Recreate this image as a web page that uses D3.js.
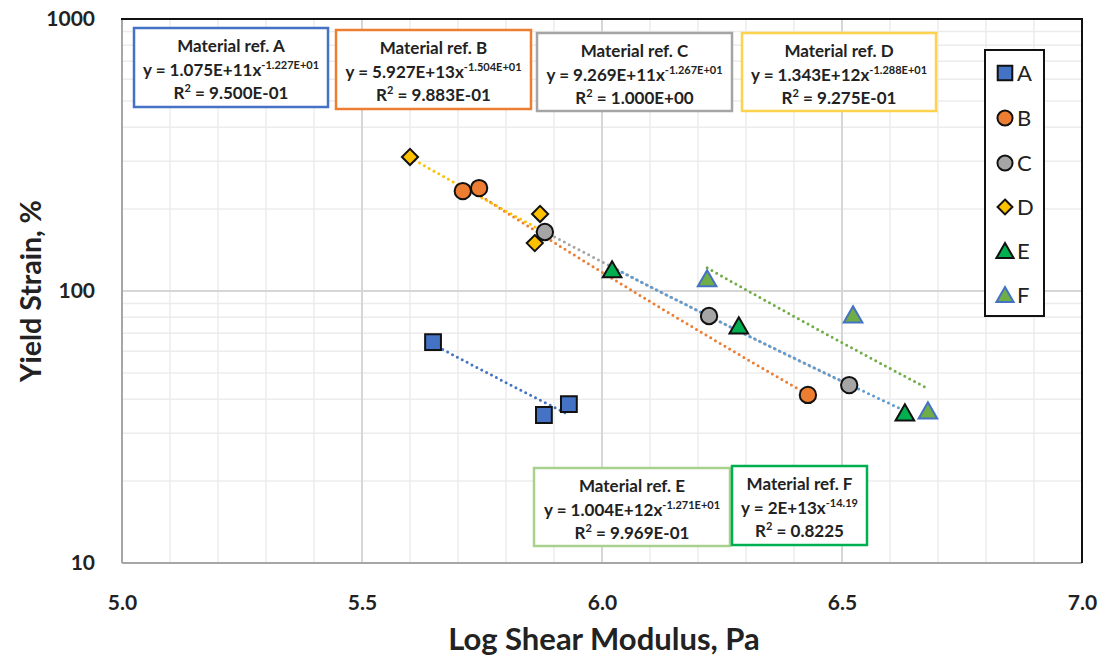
<!DOCTYPE html>
<html>
<head>
<meta charset="utf-8">
<script src="https://cdn.jsdelivr.net/npm/d3@7"></script>
<style>
  html, body { margin: 0; padding: 0; background: #fff; }
  svg { display: block; font-family: Lato, "Open Sans", sans-serif; }
</style>
</head>
<body>
<svg id="chart" width="1100" height="658"></svg>
<script>
// Series data: log shear modulus (Pa) vs yield strain (%)
const seriesNames = ["A", "B", "C", "D", "E", "F"];
const xA = [5.648, 5.879, 5.931];
const yA = [64.9, 35.0, 38.4];
const xB = [5.710, 5.744, 6.429];
const yB = [233, 239, 41.5];
const xC = [5.881, 6.223, 6.515];
const yC = [164.8, 80.9, 45.1];
const xD = [5.600, 5.871, 5.860];
const yD = [311, 192, 150];
const xE = [6.021, 6.285, 6.631];
const yE = [119.5, 74.3, 35.6];
const xF = [6.219, 6.523, 6.679];
const yF = [110.7, 81.6, 36.2];

const xTicks = [5.0, 5.5, 6.0, 6.5, 7.0];
const yTicks = [10, 100, 1000];

// Fit equations shown in the annotation boxes
const eqTitles = ["Material ref. A", "Material ref. B", "Material ref. C", "Material ref. D", "Material ref. E", "Material ref. F"];
const eqCoef = ["1.075E+11", "5.927E+13", "9.269E+11", "1.343E+12", "1.004E+12", "2E+13"];
const eqExp = ["-1.227E+01", "-1.504E+01", "-1.267E+01", "-1.288E+01", "-1.271E+01", "-14.19"];
const eqR2 = ["9.500E-01", "9.883E-01", "1.000E+00", "9.275E-01", "9.969E-01", "0.8225"];

const xs = [xA, xB, xC, xD, xE, xF];
const ys = [yA, yB, yC, yD, yE, yF];

const fills = ["#4472c4", "#ed7d31", "#a5a5a5", "#ffc000", "#00b050", "#70ad47"];
const strokes = ["#111", "#111", "#111", "#111", "#111", "#4472c4"];
const trendColors = ["#4472c4", "#ed7d31", "#a5a5a5", "#ffc000", "#5b9bd5", "#70ad47"];

// Marker shapes; the diamond is a square turned 45 degrees
const diamond = {
  draw(ctx, size) {
    const r = Math.sqrt(size / 2);
    ctx.moveTo(0, -r); ctx.lineTo(r, 0); ctx.lineTo(0, r); ctx.lineTo(-r, 0); ctx.closePath();
  }
};
const shapes = [d3.symbolSquare, d3.symbolCircle, d3.symbolCircle, diamond, d3.symbolTriangle, d3.symbolTriangle];
const sizes = [250, 210, 210, 130, 150, 150];

const svg = d3.select("#chart");
const L = 122, T = 19, R = 1082, B = 563;

const x = d3.scaleLinear().domain([5, 7]).range([L, R]);
const y = d3.scaleLog().domain([10, 1000]).range([B, T]);

// Grid: minor lines
const g = svg.append("g");
const xMinor = d3.range(5.1, 7.0, 0.1).filter(v => Math.abs(v * 2 - Math.round(v * 2)) > 1e-6);
g.selectAll(".xm").data(xMinor).join("line")
  .attr("x1", d => x(d)).attr("x2", d => x(d)).attr("y1", T).attr("y2", B)
  .attr("stroke", "#ececec").attr("stroke-width", 1.5);
const yMinor = [];
[10, 100].forEach(dec => { for (let k = 2; k <= 9; k++) yMinor.push(dec * k); });
g.selectAll(".ym").data(yMinor).join("line")
  .attr("x1", L).attr("x2", R).attr("y1", d => y(d)).attr("y2", d => y(d))
  .attr("stroke", "#ececec").attr("stroke-width", 1.5);
// Grid: major lines
g.selectAll(".xM").data([5.5, 6.0, 6.5]).join("line")
  .attr("x1", d => x(d)).attr("x2", d => x(d)).attr("y1", T).attr("y2", B)
  .attr("stroke", "#d6d6d6").attr("stroke-width", 2);
g.selectAll(".yM").data([100]).join("line")
  .attr("x1", L).attr("x2", R).attr("y1", d => y(d)).attr("y2", d => y(d))
  .attr("stroke", "#d6d6d6").attr("stroke-width", 2);

// Frame
svg.append("line").attr("x1", L).attr("x2", L).attr("y1", T).attr("y2", B).attr("stroke", "#a6a6a6").attr("stroke-width", 2);
svg.append("line").attr("x1", L).attr("x2", R).attr("y1", B).attr("y2", B).attr("stroke", "#a6a6a6").attr("stroke-width", 2);
svg.append("line").attr("x1", L - 1).attr("x2", R + 1).attr("y1", T).attr("y2", T).attr("stroke", "#111").attr("stroke-width", 2);
svg.append("line").attr("x1", R).attr("x2", R).attr("y1", T).attr("y2", B).attr("stroke", "#111").attr("stroke-width", 2);

// Axis tick labels
const xAxis = d3.axisBottom(x).tickValues(xTicks).tickFormat(d3.format(".1f")).tickSize(0).tickPadding(32);
const gx = svg.append("g").attr("transform", `translate(0,${B})`).call(xAxis);
gx.select(".domain").remove();
gx.selectAll("text").attr("font-size", 21).attr("font-weight", "bold").attr("fill", "#222")
  .attr("font-family", "Lato, sans-serif");

const yAxis = d3.axisLeft(y).tickValues(yTicks).tickFormat(d3.format("d")).tickSize(0).tickPadding(27);
const gy = svg.append("g").attr("transform", `translate(${L},0)`).call(yAxis);
gy.select(".domain").remove();
gy.selectAll("text").attr("font-size", 21).attr("font-weight", "bold").attr("fill", "#222")
  .attr("font-family", "Lato, sans-serif");

// Axis titles
svg.append("text").attr("x", 604).attr("y", 650).attr("text-anchor", "middle")
  .attr("font-size", 31).attr("font-weight", "bold").attr("fill", "#222")
  .text("Log Shear Modulus, Pa");
svg.append("text").attr("transform", "translate(41,291) rotate(-90)").attr("text-anchor", "middle")
  .attr("font-size", 28.5).attr("font-weight", "bold").attr("fill", "#222")
  .text("Yield Strain, %");

// Power-law trendlines: least-squares fit of ln(y) on ln(x), drawn over each series' x range
function powerFit(xv, yv) {
  const lx = xv.map(Math.log), ly = yv.map(Math.log);
  const mx = d3.mean(lx), my = d3.mean(ly);
  let sxy = 0, sxx = 0;
  lx.forEach((v, i) => { sxy += (v - mx) * (ly[i] - my); sxx += (v - mx) * (v - mx); });
  const b = sxy / sxx;
  const a = Math.exp(my - b * mx);
  return v => a * Math.pow(v, b);
}
const line = d3.line().x(d => x(d[0])).y(d => y(d[1]));
const trendOrder = [0, 1, 3, 2, 5, 4];
trendOrder.forEach(i => {
  const f = powerFit(xs[i], ys[i]);
  const [x0, x1] = d3.extent(xs[i]);
  const pts = d3.range(0, 41).map(k => { const v = x0 + (x1 - x0) * k / 40; return [v, f(v)]; });
  svg.append("path").attr("d", line(pts)).attr("fill", "none")
    .attr("stroke", trendColors[i]).attr("stroke-width", 3)
    .attr("stroke-linecap", "round").attr("stroke-dasharray", "0 5.5");
});

// Markers
seriesNames.forEach((name, i) => {
  const sym = d3.symbol().type(shapes[i]).size(sizes[i]);
  svg.append("g").selectAll("path").data(xs[i].map((v, j) => [v, ys[i][j]])).join("path")
    .attr("transform", d => `translate(${x(d[0])},${y(d[1]) + (shapes[i] === d3.symbolTriangle ? 2 : 0)})`)
    .attr("d", sym)
    .attr("fill", fills[i]).attr("stroke", strokes[i]).attr("stroke-width", 2);
});

// Equation boxes
const boxes = [
  { x0: 134, y0: 28, x1: 328, y1: 107, c: "#4472c4" },
  { x0: 336, y0: 30, x1: 531, y1: 109, c: "#ed7d31" },
  { x0: 537, y0: 33, x1: 732, y1: 111, c: "#a5a5a5" },
  { x0: 742, y0: 33, x1: 936, y1: 111, c: "#ffd24d" },
  { x0: 534, y0: 468, x1: 730, y1: 546, c: "#a9d18e" },
  { x0: 732, y0: 466, x1: 867, y1: 545, c: "#00b050" }
];
boxes.forEach((bx, i) => {
  const gb = svg.append("g");
  gb.append("rect").attr("x", bx.x0).attr("y", bx.y0).attr("width", bx.x1 - bx.x0).attr("height", bx.y1 - bx.y0)
    .attr("fill", "#fff").attr("stroke", bx.c).attr("stroke-width", 2.5);
  const cx = (bx.x0 + bx.x1) / 2;
  const top = bx.y0;
  gb.append("text").attr("x", cx).attr("y", top + 24).attr("text-anchor", "middle")
    .attr("font-size", 17).attr("font-weight", "bold").attr("fill", "#222").text(eqTitles[i]);
  const t2 = gb.append("text").attr("x", cx).attr("y", top + 48).attr("text-anchor", "middle")
    .attr("font-size", 17).attr("font-weight", "bold").attr("fill", "#222");
  t2.append("tspan").text(`y = ${eqCoef[i]}x`);
  t2.append("tspan").attr("dy", -7).attr("font-size", 11).text(eqExp[i]);
  const t3 = gb.append("text").attr("x", cx).attr("y", top + 71).attr("text-anchor", "middle")
    .attr("font-size", 17).attr("font-weight", "bold").attr("fill", "#222");
  t3.append("tspan").text("R");
  t3.append("tspan").attr("dy", -7).attr("font-size", 11).text("2");
  t3.append("tspan").attr("dy", 7).text(` = ${eqR2[i]}`);
});

// Legend
const lg = svg.append("g");
lg.append("rect").attr("x", 985).attr("y", 50).attr("width", 59).attr("height", 266)
  .attr("fill", "#fff").attr("stroke", "#111").attr("stroke-width", 2);
const legendY = [73, 118, 163, 207, 251, 295];
seriesNames.forEach((name, i) => {
  lg.append("path")
    .attr("transform", `translate(1005,${legendY[i] + (shapes[i] === d3.symbolTriangle ? 2 : 0)})`)
    .attr("d", d3.symbol().type(shapes[i]).size(sizes[i] * 0.85))
    .attr("fill", fills[i]).attr("stroke", strokes[i]).attr("stroke-width", 2);
  lg.append("text").attr("x", 1017).attr("y", legendY[i] + 8)
    .attr("font-size", 22).attr("fill", "#222").text(name);
});
</script>
</body>
</html>
